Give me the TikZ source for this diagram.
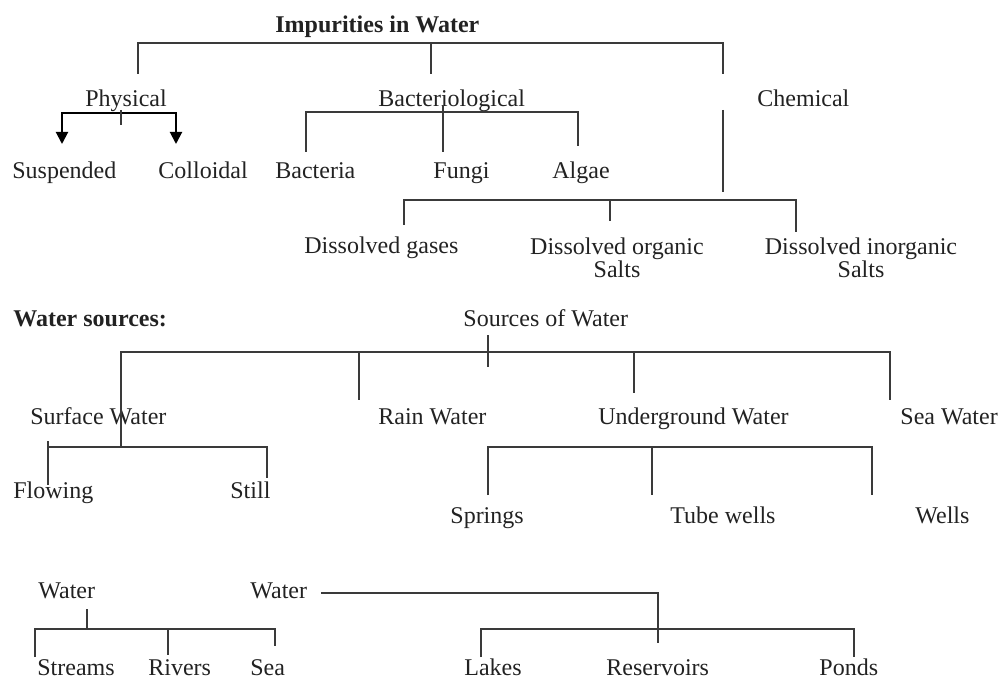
\documentclass[tikz,border=0pt]{standalone}
\usepackage{fontspec}
\setmainfont{Liberation Serif}
\usetikzlibrary{arrows.meta}
\definecolor{txt}{HTML}{222222}
\definecolor{ln}{HTML}{3A3A3A}
\begin{document}
\begin{tikzpicture}[x=0.5pt,y=-0.5pt,
  lbl/.style={anchor=west, inner sep=0pt, text height=8.4pt, text depth=0pt,
    font=\fontsize{12}{12}\selectfont, text=txt},
  blbl/.style={lbl, font=\fontsize{12}{12}\selectfont\bfseries},
  two/.style={anchor=north, inner sep=0pt, align=center,
    font=\fontsize{12}{11.5}\selectfont, text=txt},
  conn/.style={draw=ln, line width=0.8pt},
  arr/.style={draw=black, line width=1pt,
    {Triangle[width=6pt,length=6pt]}-{Triangle[width=6pt,length=6pt]}}]
\useasboundingbox (0,0) rectangle (1005,678);

% ---------- Impurities in Water ----------
\node[blbl] (imp) at (275,24) {Impurities in Water};
\node[lbl] (phys) at (85,98) {Physical};
\node[lbl] (bact) at (378,98) {Bacteriological};
\node[lbl] (chem) at (757,98) {Chemical};
\node[lbl] (susp) at (12,170) {Suspended};
\node[lbl] (coll) at (158,170) {Colloidal};
\node[lbl] (bacteria) at (275,170) {Bacteria};
\node[lbl] (fungi) at (433,170) {Fungi};
\node[lbl] (algae) at (552,170) {Algae};
\node[lbl] (dgas) at (304,245) {Dissolved gases};
\node[two] (dorg) at (617,237) {Dissolved organic\\Salts};
\node[two] (dinorg) at (861,237) {Dissolved inorganic\\Salts};

\coordinate (i1) at (138,43); \coordinate (i2) at (431,43); \coordinate (i3) at (723,43);
\coordinate (i1b) at (138,74); \coordinate (i2b) at (431,74); \coordinate (i3b) at (723,74);
\draw[conn] (i1b) -- (i1) -- (i3) -- (i3b);
\draw[conn] (i2) -- (i2b);

\coordinate (p1) at (62,144); \coordinate (p2) at (62,113); \coordinate (p3) at (176,113);
\coordinate (p4) at (176,144); \coordinate (pt1) at (121,110); \coordinate (pt2) at (121,125);
\draw[arr] (p1) -- (p2) -- (p3) -- (p4);
\draw[conn] (pt1) -- (pt2);

\coordinate (b1) at (306,152); \coordinate (b2) at (306,112); \coordinate (b3) at (578,112);
\coordinate (b4) at (578,146); \coordinate (bt1) at (443,105); \coordinate (bt2) at (443,152);
\draw[conn] (b1) -- (b2) -- (b3) -- (b4);
\draw[conn] (bt1) -- (bt2);

\coordinate (c1) at (723,110); \coordinate (c2) at (723,192);
\draw[conn] (c1) -- (c2);

\coordinate (d1) at (404,225); \coordinate (d2) at (404,200); \coordinate (d3) at (796,200);
\coordinate (d4) at (796,232); \coordinate (dt1) at (610,200); \coordinate (dt2) at (610,221);
\draw[conn] (d1) -- (d2) -- (d3) -- (d4);
\draw[conn] (dt1) -- (dt2);

% ---------- Water sources ----------
\node[blbl] (wsrc) at (13,318) {Water sources:};
\node[lbl] (src) at (463,318) {Sources of Water};
\node[lbl] (surf) at (30,416) {Surface Water};
\node[lbl] (rain) at (378,416) {Rain Water};
\node[lbl] (under) at (598,416) {Underground Water};
\node[lbl] (seaw) at (900,416) {Sea Water};
\node[lbl] (flow) at (13,490) {Flowing};
\node[lbl] (still) at (230,490) {Still};
\node[lbl] (spr) at (450,515) {Springs};
\node[lbl] (tube) at (670,515) {Tube wells};
\node[lbl] (wells) at (915,515) {Wells};

\coordinate (s0) at (488,335); \coordinate (s0b) at (488,367);
\draw[conn] (s0) -- (s0b);
\coordinate (s1) at (121,352); \coordinate (s4) at (890,352); \coordinate (s4b) at (890,400);
\coordinate (s2) at (359,352); \coordinate (s2b) at (359,400);
\coordinate (s3) at (634,352); \coordinate (s3b) at (634,393);
\coordinate (s1b) at (121,447);
\draw[conn] (s1b) -- (s1) -- (s4) -- (s4b);
\draw[conn] (s2) -- (s2b);
\draw[conn] (s3) -- (s3b);

\coordinate (f1) at (48,485); \coordinate (f2) at (48,441); \coordinate (f3) at (48,447);
\coordinate (f4) at (267,447); \coordinate (f5) at (267,478);
\draw[conn] (f1) -- (f2);
\draw[conn] (f3) -- (f4) -- (f5);

\coordinate (u1) at (488,495); \coordinate (u2) at (488,447); \coordinate (u3) at (872,447);
\coordinate (u4) at (872,495); \coordinate (ut1) at (652,447); \coordinate (ut2) at (652,495);
\draw[conn] (u1) -- (u2) -- (u3) -- (u4);
\draw[conn] (ut1) -- (ut2);

% ---------- Flowing / Still water ----------
\node[lbl] (wat1) at (38,590) {Water};
\node[lbl] (wat2) at (250,590) {Water};
\node[lbl] (streams) at (37,667) {Streams};
\node[lbl] (rivers) at (148,667) {Rivers};
\node[lbl] (sea) at (250,667) {Sea};
\node[lbl] (lakes) at (464,667) {Lakes};
\node[lbl] (res) at (606,667) {Reservoirs};
\node[lbl] (ponds) at (819,667) {Ponds};

\coordinate (w1) at (87,609); \coordinate (w1b) at (87,629);
\draw[conn] (w1) -- (w1b);
\coordinate (l1) at (35,657); \coordinate (l2) at (35,629); \coordinate (l3) at (275,629);
\coordinate (l4) at (275,646); \coordinate (lt1) at (168,629); \coordinate (lt2) at (168,655);
\draw[conn] (l1) -- (l2) -- (l3) -- (l4);
\draw[conn] (lt1) -- (lt2);

\coordinate (r1) at (321,593); \coordinate (r2) at (658,593); \coordinate (r3) at (658,643);
\draw[conn] (r1) -- (r2) -- (r3);
\coordinate (q1) at (481,657); \coordinate (q2) at (481,629); \coordinate (q3) at (854,629);
\coordinate (q4) at (854,657);
\draw[conn] (q1) -- (q2) -- (q3) -- (q4);
\end{tikzpicture}
\end{document}
